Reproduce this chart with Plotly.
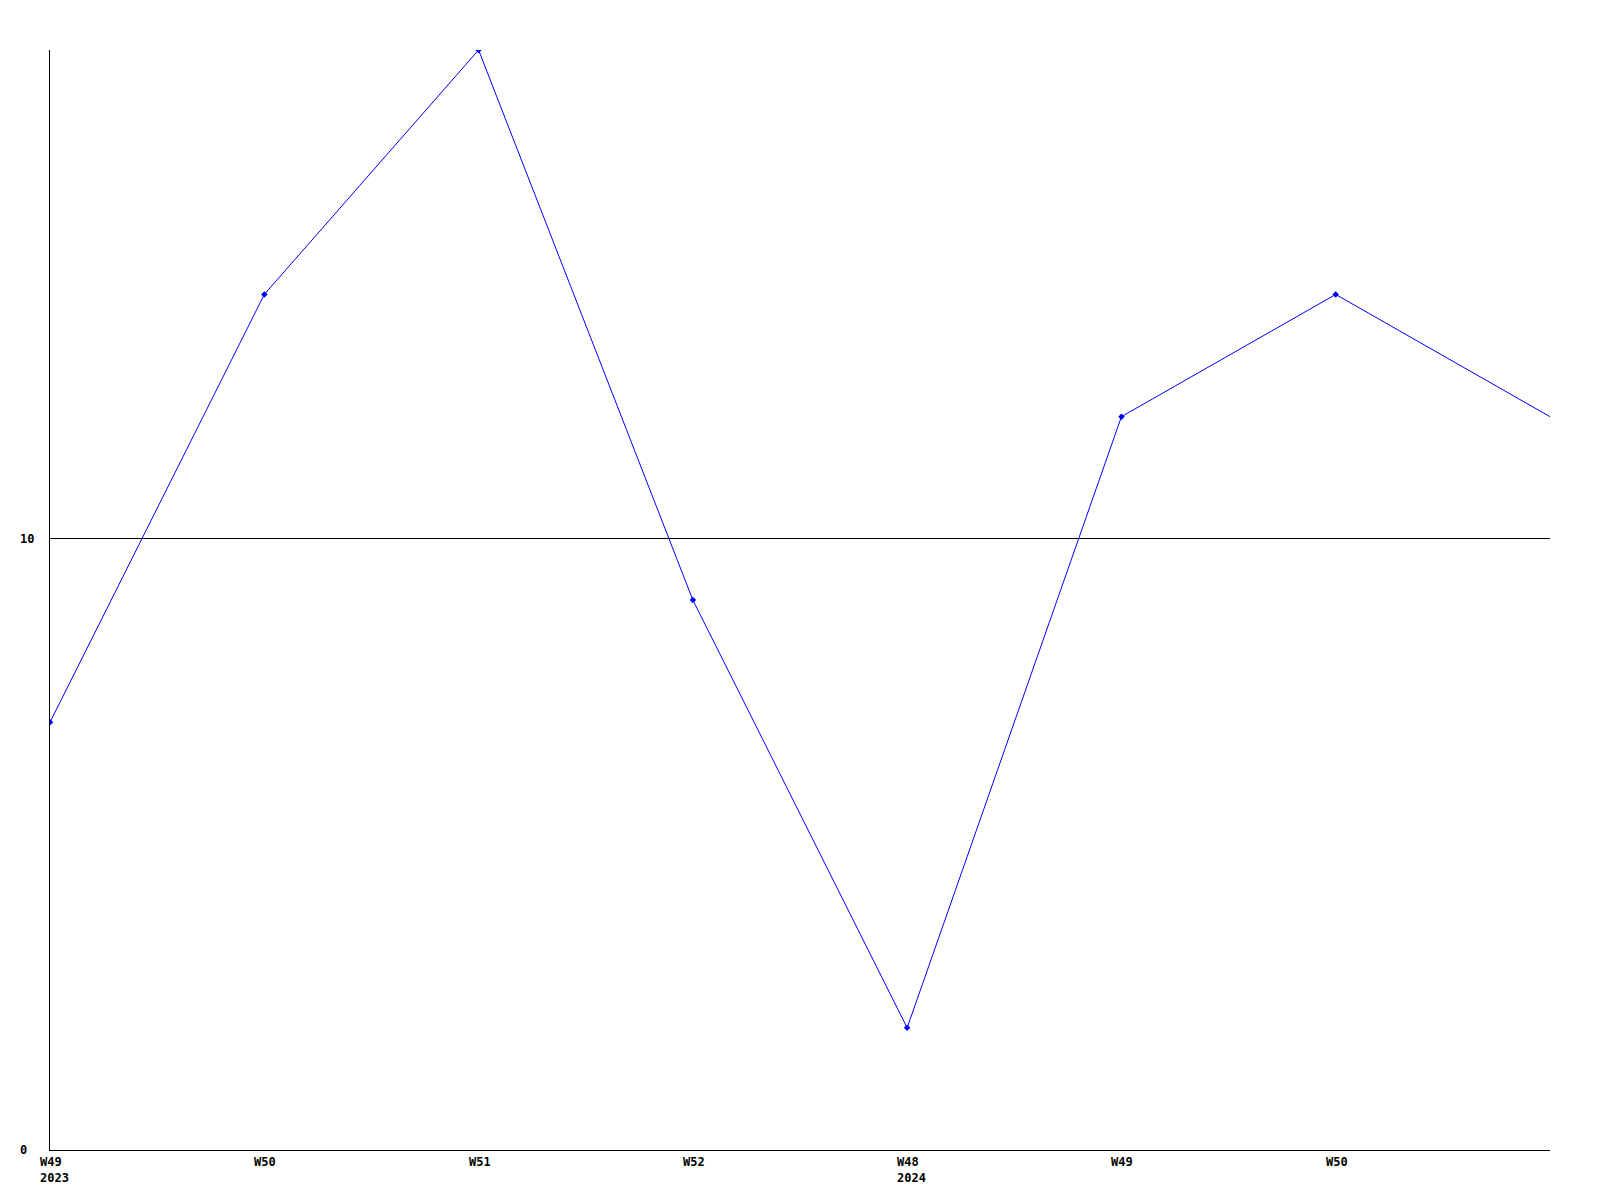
import plotly.graph_objects as go

# Data
weeks = ["W49", "W50", "W51", "W52", "W48", "W49", "W50", ""]
years = ["2023", "", "", "", "2024", "", "", ""]
values = [7, 14, 18, 9, 2, 12, 14, 12]
y_ticks = [0, 10]

x_idx = list(range(len(values)))

fig = go.Figure()
# line through all points
fig.add_trace(go.Scatter(
    x=x_idx, y=values, mode="lines",
    line=dict(color="#0000ff", width=1),
    showlegend=False, hoverinfo="skip",
))
# markers (the last point sits on the right edge and shows no marker in the reference)
fig.add_trace(go.Scatter(
    x=x_idx[:-1], y=values[:-1], mode="markers",
    marker=dict(color="#0000ff", size=5, symbol="diamond"),
    showlegend=False, hoverinfo="skip",
))

font = dict(family="DejaVu Sans Mono", size=12, color="black")
annotations = []
for i, (w, yr) in enumerate(zip(weeks, years)):
    if not w:
        continue
    txt = f"<b>{w}</b>" + (f"<br><b>{yr}</b>" if yr else "")
    annotations.append(dict(
        x=i, xref="x", y=0, yref="paper", text=txt, showarrow=False,
        xanchor="left", yanchor="top", align="left", xshift=-12, yshift=-3,
        font=font,
    ))
for t in y_ticks:
    annotations.append(dict(
        x=0, xref="paper", y=t, yref="y", text=f"<b>{t}</b>", showarrow=False,
        xanchor="left", yanchor="middle", xshift=-32, font=font,
    ))

fig.update_layout(
    width=1584, height=1184,
    margin=dict(l=42, r=42, t=42, b=42),
    paper_bgcolor="white", plot_bgcolor="white",
    annotations=annotations,
    xaxis=dict(range=[0, len(values) - 1], showgrid=False, zeroline=False,
               showline=True, linecolor="black", linewidth=1,
               showticklabels=False, ticks=""),
    yaxis=dict(range=[0, 18], tickvals=y_ticks, showgrid=True, gridcolor="black",
               gridwidth=1, zeroline=False, showline=True, linecolor="black",
               linewidth=1, showticklabels=False, ticks=""),
)

fig.write_html("out.html")
